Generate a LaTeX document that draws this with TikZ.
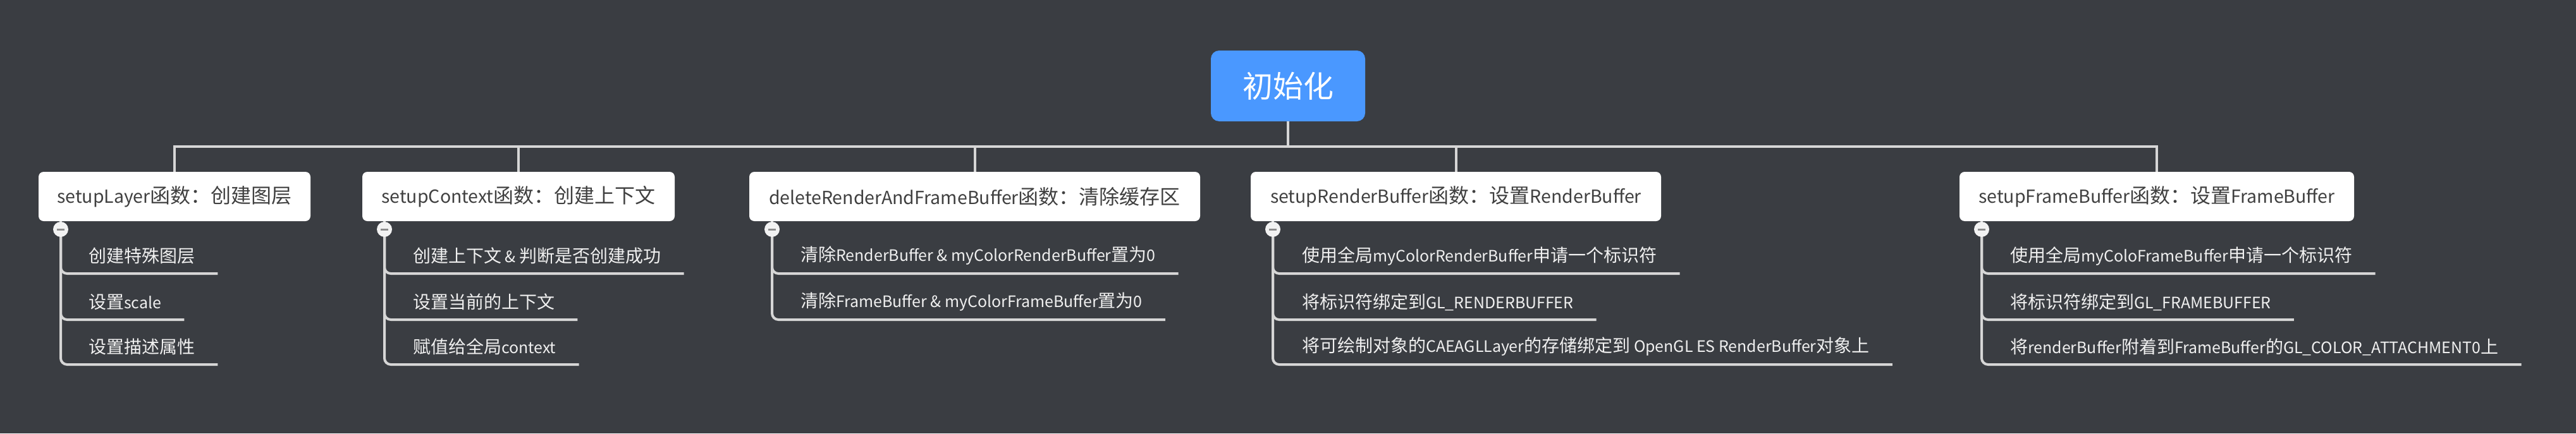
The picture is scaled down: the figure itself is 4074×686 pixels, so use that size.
\documentclass[tikz,border=0pt]{standalone}
\usepackage{fontspec}
\setmainfont{Noto Sans CJK SC}
\newfontfamily\latfont{Noto Sans CJK SC}[Scale=0.89]
\newcommand\ltn[1]{{\latfont #1}}
\usetikzlibrary{calc}
\definecolor{bg}{RGB}{58,61,66}
\definecolor{rootblue}{RGB}{74,152,255}
\definecolor{linec}{RGB}{214,214,214}
\definecolor{boxtext}{RGB}{64,64,64}
\definecolor{itemtext}{RGB}{240,240,240}
\definecolor{markbar}{RGB}{140,140,140}
\definecolor{markfill}{RGB}{242,242,242}
\begin{document}
\begin{tikzpicture}[x=1pt,y=-1pt,
  rootnode/.style={fill=rootblue, rounded corners=13pt, minimum width=244pt, minimum height=112pt, inner sep=0pt, text=white, font=\fontsize{48}{56}\selectfont},
  fnbox/.style={fill=white, rounded corners=8pt, minimum height=78pt, inner sep=0pt, text=boxtext, font=\fontsize{32}{38}\selectfont},
  item/.style={anchor=west, inner sep=0pt, text=itemtext, font=\fontsize{28}{34}\selectfont},
  conn/.style={draw=linec, line width=4pt},
  branch/.style={conn, rounded corners=10pt},
  marker/.style={circle, fill=markfill, minimum size=24pt, inner sep=0pt,
    path picture={\draw[markbar, line width=3pt] ([xshift=-6pt]path picture bounding box.center) -- ([xshift=6pt]path picture bounding box.center);}}
]
\fill[bg] (0,0) rectangle (4074,686);
\useasboundingbox (0,0) rectangle (4074,686);

\node[rootnode] (root) at (2037,136) {初始化};
\coordinate (hub) at (2037,232);

\node[fnbox, minimum width=430pt] (b1) at (276,311) {\ltn{setupLayer}函数：创建图层};
\node[fnbox, minimum width=494pt] (b2) at (820,311) {\ltn{setupContext}函数：创建上下文};
\node[fnbox, minimum width=713pt] (b3) at (1541.5,311) {\ltn{deleteRenderAndFrameBuffer}函数：清除缓存区};
\node[fnbox, minimum width=649pt] (b4) at (2302.5,311) {\ltn{setupRenderBuffer}函数：设置\ltn{RenderBuffer}};
\node[fnbox, minimum width=624pt] (b5) at (3411,311) {\ltn{setupFrameBuffer}函数：设置\ltn{FrameBuffer}};

\draw[conn] (root.south) -- (hub);
\draw[conn] (b1.north) |- (hub);
\draw[conn] (hub) -| (b5.north);
\foreach \b in {b2,b3,b4} { \draw[conn] (\b.north) -- (\b.north |- hub); }

% items
\node[item] (i11) at (140,405) {创建特殊图层};
\node[item] (i12) at (140,478) {设置\ltn{scale}};
\node[item] (i13) at (140,549) {设置描述属性};

\node[item] (i21) at (653,405) {创建上下文\ltn{ \& }判断是否创建成功};
\node[item] (i22) at (653,478) {设置当前的上下文};
\node[item] (i23) at (653,549) {赋值给全局\ltn{context}};

\node[item] (i31) at (1266,405) {清除\ltn{RenderBuffer \& myColorRenderBuffer}置为\ltn{0}};
\node[item] (i32) at (1266,478) {清除\ltn{FrameBuffer \& myColorFrameBuffer}置为\ltn{0}};

\node[item] (i41) at (2059,405) {使用全局\ltn{myColorRenderBuffer}申请一个标识符};
\node[item] (i42) at (2059,478) {将标识符绑定到\ltn{GL\_RENDERBUFFER}};
\node[item] (i43) at (2059,549) {将可绘制对象的\ltn{CAEAGLLayer}的存储绑定到\ltn{ OpenGL ES RenderBuffer}对象上};

\node[item] (i51) at (3179,405) {使用全局\ltn{myColoFrameBuffer}申请一个标识符};
\node[item] (i52) at (3179,478) {将标识符绑定到\ltn{GL\_FRAMEBUFFER}};
\node[item] (i53) at (3179,549) {将\ltn{renderBuffer}附着到\ltn{FrameBuffer}的\ltn{GL\_COLOR\_ATTACHMENT0}上};

% markers positions
\coordinate (m1) at (96,363);
\coordinate (m2) at (608,363);
\coordinate (m3) at (1221,363);
\coordinate (m4) at (2013,363);
\coordinate (m5) at (3134,363);

\foreach \m/\b/\list in {m1/b1/{i11,i12,i13}, m2/b2/{i21,i22,i23}, m3/b3/{i31,i32}, m4/b4/{i41,i42,i43}, m5/b5/{i51,i52,i53}} {
  \draw[conn] (\m) -- (\m |- \b.south);
  \foreach \i in \list {
    \draw[branch] (\m) |- ([xshift=36pt,yshift=-28pt]\i.east);
  }
}

\node[marker] (k1) at (m1) {};
\node[marker] (k2) at (m2) {};
\node[marker] (k3) at (m3) {};
\node[marker] (k4) at (m4) {};
\node[marker] (k5) at (m5) {};
\end{tikzpicture}
\end{document}
